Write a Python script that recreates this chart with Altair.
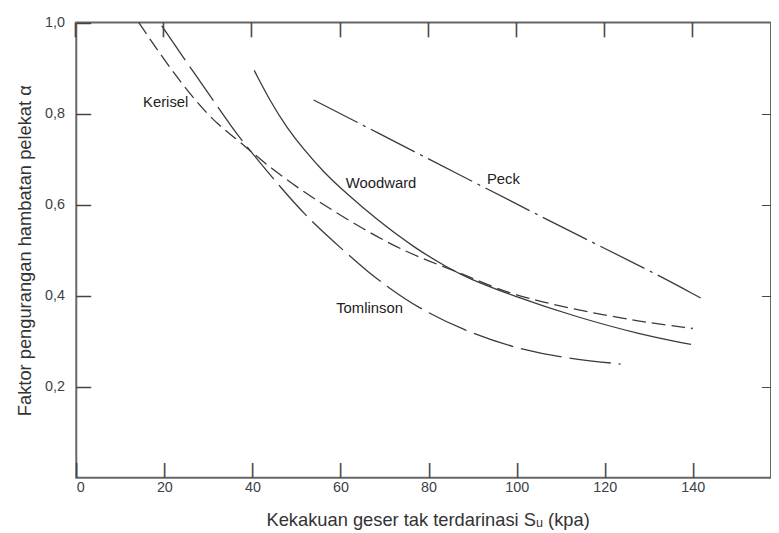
import altair as alt
import pandas as pd

# ---- data ----
kerisel_x = [14.2, 20.5, 27.2, 32.2, 37.0, 42.6, 50.1, 57.6, 65.1, 72.6, 80.0, 88.3, 98.0, 113.0, 128.1, 140.0]
kerisel_y = [1.0, 0.910, 0.826, 0.775, 0.740, 0.692, 0.638, 0.591, 0.547, 0.507, 0.476, 0.446, 0.404, 0.370, 0.343, 0.328]

tomlinson_x = [19.4, 24.9, 29.9, 35.5, 40.0, 46.4, 52.4, 60.6, 66.6, 71.1, 77.1, 88.3, 99.6, 110.8, 123.6]
tomlinson_y = [0.993, 0.915, 0.846, 0.767, 0.712, 0.638, 0.572, 0.500, 0.449, 0.417, 0.376, 0.322, 0.285, 0.263, 0.250]

woodward_x = [40.4, 44.1, 47.9, 51.6, 56.1, 61.3, 68.1, 77.1, 84.5, 88.3, 99.6, 113.0, 128.0, 139.6]
woodward_y = [0.895, 0.826, 0.768, 0.722, 0.672, 0.625, 0.568, 0.503, 0.461, 0.441, 0.398, 0.355, 0.315, 0.293]

peck_x = [53.9, 66.6, 90.6, 113.0, 130.3, 141.8]
peck_y = [0.830, 0.767, 0.648, 0.537, 0.455, 0.395]

label_text = ["Kerisel", "Woodward", "Peck", "Tomlinson"]
label_x = [20.3, 69.2, 97.0, 66.6]
label_y = [0.826, 0.648, 0.657, 0.372]

x_ticks = [0, 20, 40, 60, 80, 100, 120, 140]
y_ticks = [0.2, 0.4, 0.6, 0.8, 1.0]
y_ticks_right = [0.2, 0.4, 0.6, 0.8]

x_min, x_max = 0, 157.75
y_min, y_max = 0, 1.0

x_title = "Kekakuan geser tak terdarinasi S\u1d64 (kpa)"
y_title = "Faktor pengurangan hambatan pelekat \u03b1"

# ---- chart ----
FONT = "Liberation Sans"
LINE = "#3a3a3a"
TICK = "#444444"
DASH = "\u2014"  # em dash glyph used as a short tick stroke
xs = alt.Scale(domain=[x_min, x_max], nice=False, zero=False)
ys = alt.Scale(domain=[y_min, y_max], nice=False)

def df(xv, yv):
    return pd.DataFrame({"x": xv, "y": yv})

x_bottom = alt.Axis(orient="bottom", values=x_ticks, ticks=False, tickSize=0, domain=False, grid=False,
                    labelPadding=3, labelFontSize=14.5, title=x_title,
                    titleFontSize=18.5, titleFontWeight="normal", titlePadding=17, titleX=355)
y_left = alt.Axis(orient="left", values=y_ticks, ticks=False, tickSize=0, domain=False, grid=False,
                  labelPadding=12, labelFontSize=14.5, title=y_title,
                  titleFontSize=18.5, titleFontWeight="normal", titlePadding=10,
                  labelExpr="replace(format(datum.value, '.1f'), '.', ',')")

kerisel = alt.Chart(df(kerisel_x, kerisel_y)).mark_line(
    color=LINE, strokeWidth=1.3, strokeDash=[14, 6], interpolate="basis").encode(
    x=alt.X("x:Q", scale=xs, axis=x_bottom),
    y=alt.Y("y:Q", scale=ys, axis=y_left))

woodward = alt.Chart(df(woodward_x, woodward_y)).mark_line(
    color=LINE, strokeWidth=1.3, interpolate="basis").encode(
    x=alt.X("x:Q"), y=alt.Y("y:Q"))

tomlinson = alt.Chart(df(tomlinson_x, tomlinson_y)).mark_line(
    color=LINE, strokeWidth=1.3, strokeDash=[42, 8], interpolate="basis").encode(
    x=alt.X("x:Q"), y=alt.Y("y:Q"))

peck = alt.Chart(df(peck_x, peck_y)).mark_line(
    color=LINE, strokeWidth=1.3, strokeDash=[50, 6, 3, 6], interpolate="basis").encode(
    x=alt.X("x:Q"), y=alt.Y("y:Q"))

labels = alt.Chart(pd.DataFrame({"t": label_text, "x": label_x, "y": label_y})).mark_text(
    font=FONT, fontSize=15, color="#222222", align="center", baseline="middle").encode(
    x=alt.X("x:Q"), y=alt.Y("y:Q"), text="t:N")

# inward tick strokes on the four sides, placed through the shared scales
bottom_df = pd.DataFrame({"x": x_ticks, "y": [y_min] * len(x_ticks), "t": [DASH] * len(x_ticks)})
top_df = pd.DataFrame({"x": x_ticks, "y": [y_max] * len(x_ticks), "t": [DASH] * len(x_ticks)})
left_df = pd.DataFrame({"x": [x_min] * len(y_ticks), "y": y_ticks, "t": [DASH] * len(y_ticks)})
right_df = pd.DataFrame({"x": [x_max] * len(y_ticks_right), "y": y_ticks_right,
                         "t": [DASH] * len(y_ticks_right)})

tick_txt = dict(font=FONT, fontWeight="bold", color=TICK, baseline="middle")

ticks_bottom = alt.Chart(bottom_df).mark_text(fontSize=15, angle=270, align="left", **tick_txt).encode(
    x=alt.X("x:Q"), y=alt.Y("y:Q"), text="t:N")
ticks_top = alt.Chart(top_df).mark_text(fontSize=15, angle=90, align="left", **tick_txt).encode(
    x=alt.X("x:Q"), y=alt.Y("y:Q"), text="t:N")
ticks_left = alt.Chart(left_df).mark_text(fontSize=15, align="left", **tick_txt).encode(
    x=alt.X("x:Q"), y=alt.Y("y:Q"), text="t:N")
ticks_right = alt.Chart(right_df).mark_text(fontSize=9, align="right", **tick_txt).encode(
    x=alt.X("x:Q"), y=alt.Y("y:Q"), text="t:N")

chart = alt.layer(kerisel, woodward, tomlinson, peck, labels,
                  ticks_bottom, ticks_top, ticks_left, ticks_right).properties(
    width=702, height=460,
    autosize=alt.AutoSizeParams(type="none"),
    padding={"left": 69, "top": 12, "right": 0, "bottom": 53},
    background="white",
).configure_view(
    stroke="#666666", strokeWidth=2
).configure_axis(
    labelColor="#3b3f4a", titleColor="#333333",
    labelFont=FONT, titleFont=FONT
)

chart.save("out.html", embed_options={"renderer": "svg", "actions": False})
